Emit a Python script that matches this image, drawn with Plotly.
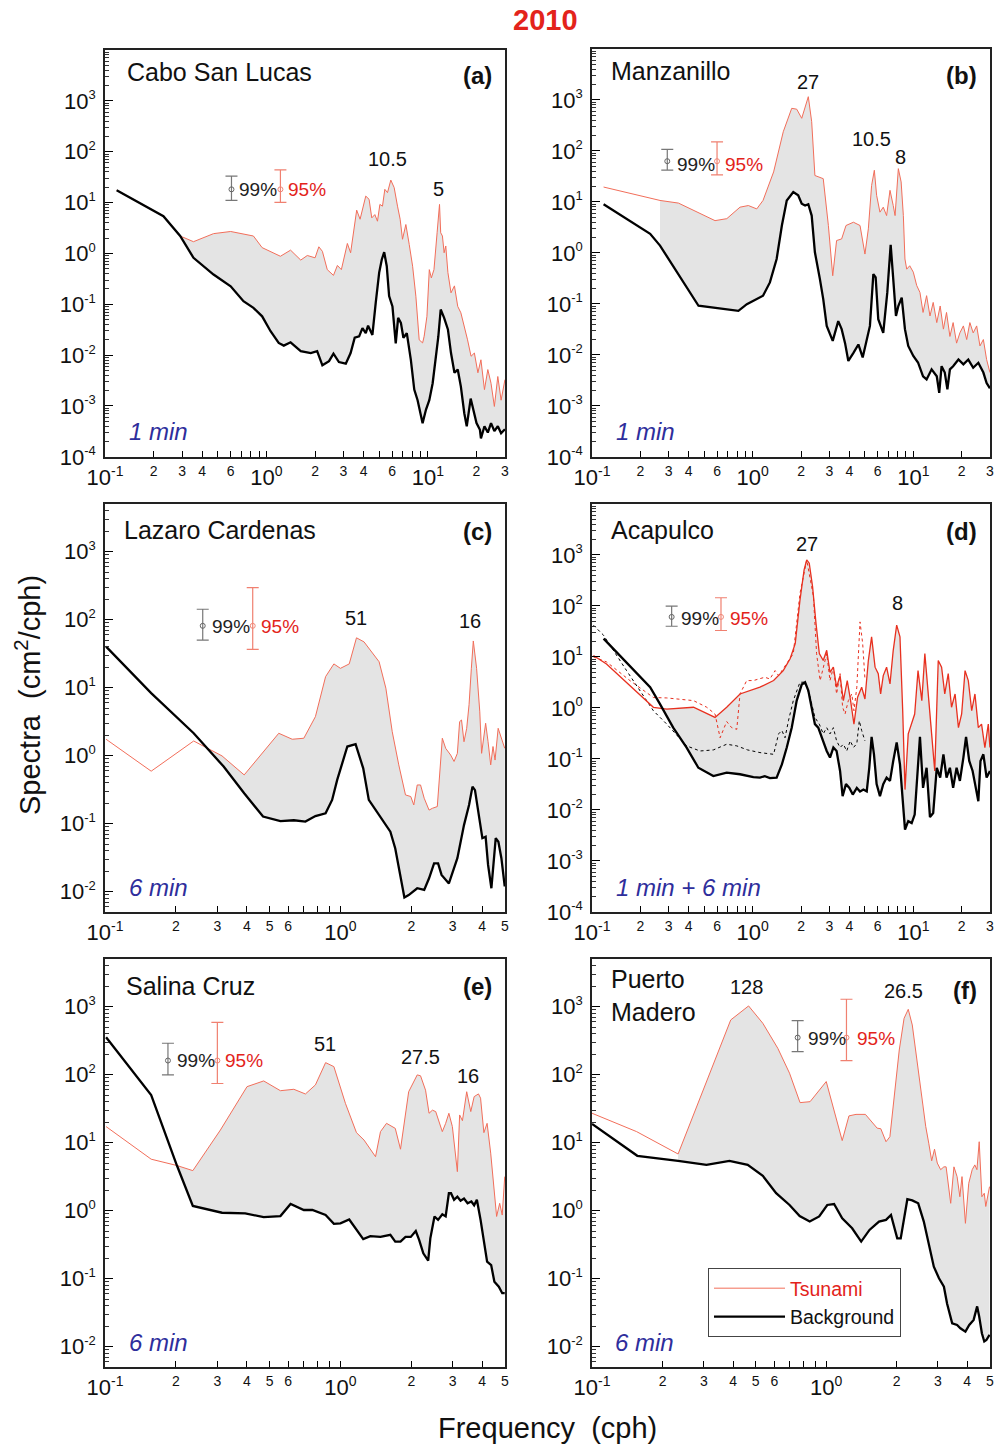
import math
import plotly.graph_objects as go

W, H = 998, 1446
FONT = "Liberation Sans, Arial, Helvetica, sans-serif"
TSU_COLOR = "#f26e5a"
TSU_COLOR_D = "#e8301f"
TXT_RED = "#e3231b"
BLUE = "#2e2e9c"
FILL = "#e4e4e4"

# ---------------- data: (a) Cabo San Lucas ----------------
a_tsu_f = [0.118, 0.23, 0.292, 0.353, 0.47, 0.6, 0.83, 0.94, 1.22, 1.41, 1.63, 1.79, 2.0, 2.11, 2.22,
           2.38, 2.6, 2.75, 2.91, 3.17, 3.32, 3.62, 3.8, 4.12, 4.32, 4.49, 4.69, 4.87, 5.04, 5.23,
           5.41, 5.62, 5.89, 6.18, 6.48, 6.73, 6.96, 7.3, 7.66, 8.04, 8.42, 8.83, 9.27, 9.48, 9.86,
           10.2, 10.5, 10.9, 11.4, 11.8, 12.0, 12.3, 12.6, 12.9, 13.3, 13.9, 14.6, 15.3, 16.0, 16.8,
           17.6, 18.5, 19.4, 20.4, 21.3, 22.4, 23.5, 24.6, 25.8, 27.1, 28.4, 30.0]
a_tsu_s = [17.4, 5.4, 2.2, 1.7, 2.45, 2.7, 2.2, 1.3, 0.88, 1.16, 0.74, 0.91, 0.82, 1.35, 1.1,
           0.48, 0.37, 0.58, 0.48, 1.57, 1.03, 7.1, 4.7, 13.4, 11.6, 5.0, 5.8, 4.3, 9.2, 8.5,
           18.2, 15.7, 27.7, 19.7, 8.5, 4.7, 1.9, 3.7, 1.5, 0.56, 0.144, 0.020, 0.0174, 0.0234, 0.058,
           0.48, 0.33, 0.48, 2.55, 9.2, 2.55, 2.2, 1.03, 1.4, 0.42, 0.168, 0.23, 0.091, 0.068, 0.037,
           0.020, 0.0095, 0.011, 0.0045, 0.0081, 0.0021, 0.0052, 0.0028, 0.00098, 0.0038, 0.0013, 0.0033]
a_bg_f = [0.118, 0.23, 0.292, 0.353, 0.47, 0.6, 0.72, 0.83, 0.94, 1.06, 1.19, 1.28, 1.41, 1.63, 1.88,
          2.06, 2.22, 2.44, 2.6, 2.81, 3.1, 3.32, 3.52, 3.75, 3.93, 4.12, 4.26, 4.53, 4.75, 4.99,
          5.18, 5.36, 5.56, 5.75, 6.03, 6.32, 6.54, 6.8, 7.05, 7.4, 7.84, 8.23, 8.63, 8.96, 9.27,
          9.73, 10.2, 10.7, 11.2, 11.6, 12.0, 12.6, 13.3, 13.9, 14.6, 15.3, 16.0, 16.8, 17.4, 18.4,
          19.1, 20.0, 21.0, 21.3, 22.4, 23.5, 24.6, 25.8, 27.1, 28.4, 30.0]
a_bg_s = [17.4, 5.4, 2.2, 0.82, 0.385, 0.226, 0.115, 0.085, 0.058, 0.0295, 0.0174, 0.0154, 0.0179, 0.012, 0.011,
          0.012, 0.0063, 0.0076, 0.0107, 0.0073, 0.0068, 0.011, 0.022, 0.0234, 0.034, 0.027, 0.038, 0.025, 0.107, 0.42,
          0.76, 1.06, 0.56, 0.145, 0.091, 0.017, 0.054, 0.043, 0.022, 0.027, 0.0081, 0.0021, 0.0013, 0.00072, 0.00046,
          0.00085, 0.0013, 0.0028, 0.0081, 0.023, 0.079, 0.054, 0.032, 0.011, 0.0045, 0.0052, 0.0024, 0.00072, 0.0004, 0.0014,
          0.00085, 0.00046, 0.00034, 0.00023, 0.0004, 0.0003, 0.00046, 0.00032, 0.0004, 0.00029, 0.00035]

# ---------------- data: (b) Manzanillo ----------------
b_tsu_f = [0.118, 0.265, 0.345, 0.583, 0.69, 0.834, 0.94, 1.06, 1.16, 1.35, 1.55, 1.75, 1.88, 2.02, 2.22,
           2.33, 2.44, 2.75, 2.96, 3.15, 3.33, 3.58, 3.81, 4.24, 4.66, 5.0, 5.25, 5.5, 5.72, 5.91,
           6.2, 6.5, 6.82, 7.16, 7.5, 7.7, 8.07, 8.4, 8.67, 8.87, 9.1, 9.5, 10.0, 10.5, 11.0,
           11.5, 12.1, 12.7, 13.3, 14.0, 14.7, 15.4, 16.1, 16.9, 17.7, 18.6, 19.5, 20.5, 21.5, 22.5,
           23.6, 24.8, 26.0, 27.3, 28.6, 30.0]
b_tsu_s = [19.6, 10.7, 9.5, 4.3, 4.7, 7.9, 8.5, 7.3, 10.7, 38.8, 238, 686, 660, 437, 1160,
           375, 33, 28.6, 3.45, 0.357, 1.75, 1.88, 3.45, 4.0, 3.45, 0.95, 2.97, 21, 41.8, 13.5,
           6.3, 7.9, 5.4, 16.9, 8.5, 5.4, 45, 24.7, 5.4, 0.76, 0.48, 0.56, 0.42, 0.23, 0.168,
           0.068, 0.145, 0.058, 0.107, 0.043, 0.091, 0.032, 0.068, 0.023, 0.043, 0.017, 0.027, 0.037, 0.020, 0.043,
           0.027, 0.037, 0.015, 0.020, 0.0081, 0.0045]
b_bg_f = [0.118, 0.23, 0.265, 0.46, 0.815, 0.92, 1.16, 1.28, 1.41, 1.52, 1.63, 1.79, 1.92, 2.02, 2.12,
          2.22, 2.33, 2.44, 2.62, 2.75, 2.89, 3.15, 3.41, 3.58, 3.76, 3.94, 4.24, 4.55, 4.84, 5.13,
          5.37, 5.64, 5.83, 6.05, 6.5, 6.89, 7.23, 7.5, 7.8, 8.07, 8.47, 8.87, 9.3, 10.0, 10.7,
          11.5, 12.1, 13.0, 14.0, 14.5, 15.0, 15.7, 16.3, 16.9, 17.7, 19.1, 20.5, 22.0, 23.6, 25.4,
          27.3, 28.6, 30.0]
b_bg_s = [9.0, 2.37, 1.39, 0.092, 0.073, 0.099, 0.145, 0.264, 0.76, 3.45, 10.7, 15.7, 13.5, 9.2, 8.5,
          9.0, 5.4, 1.03, 0.31, 0.124, 0.037, 0.0188, 0.046, 0.032, 0.017, 0.0076, 0.011, 0.016, 0.0089, 0.020,
          0.037, 0.385, 0.33, 0.05, 0.027, 0.168, 1.44, 0.31, 0.058, 0.091, 0.133, 0.032, 0.015, 0.0095, 0.0071,
          0.0038, 0.0033, 0.0052, 0.0038, 0.0018, 0.006, 0.0045, 0.0021, 0.0052, 0.006, 0.0081, 0.0065, 0.0081, 0.0056, 0.007,
          0.0045, 0.0028, 0.0022]

# ---------------- data: (c) Lazaro Cardenas ----------------
c_tsu_f = [0.101, 0.157, 0.238, 0.271, 0.314, 0.39, 0.457, 0.547, 0.624, 0.699, 0.783, 0.865, 0.938, 1.0, 1.09,
           1.17, 1.26, 1.37, 1.46, 1.56, 1.66, 1.77, 1.89, 1.99, 2.05, 2.12, 2.19, 2.27, 2.38, 2.46,
           2.58, 2.71, 2.8, 2.94, 3.04, 3.14, 3.21, 3.27, 3.35, 3.44, 3.52, 3.6, 3.67, 3.79, 3.91,
           3.98, 4.14, 4.24, 4.35, 4.45, 4.54, 4.68, 4.83, 4.99]
c_tsu_s = [1.74, 0.59, 1.64, 1.31, 0.99, 0.52, 1.02, 2.13, 1.74, 1.8, 3.74, 14.5, 22.3, 19.2, 22.3,
           54, 47, 32, 24, 9.8, 2.25, 0.73, 0.264, 0.25, 0.188, 0.37, 0.37, 0.236, 0.158, 0.168,
           0.178, 1.8, 1.28, 1.02, 0.82, 1.08, 3.16, 3.34, 1.6, 2.52, 5.6, 19.2, 48.5, 19.2, 4.4,
           1.08, 2.99, 1.6, 0.73, 1.36, 0.86, 2.52, 1.8, 1.28]
c_bg_f = [0.101, 0.157, 0.238, 0.271, 0.319, 0.39, 0.469, 0.556, 0.634, 0.71, 0.783, 0.865, 0.922, 0.969, 1.07,
          1.16, 1.25, 1.32, 1.46, 1.63, 1.71, 1.8, 1.87, 1.95, 2.12, 2.27, 2.38, 2.5, 2.6, 2.69,
          2.89, 3.14, 3.35, 3.52, 3.64, 3.73, 3.88, 4.01, 4.14, 4.24, 4.38, 4.57, 4.69, 4.83, 4.99]
c_bg_s = [40, 8.3, 2.13, 1.31, 0.69, 0.28, 0.127, 0.109, 0.112, 0.107, 0.129, 0.142, 0.223, 0.44, 1.36,
          1.47, 0.65, 0.223, 0.134, 0.076, 0.043, 0.0176, 0.0082, 0.0089, 0.0112, 0.0106, 0.0157, 0.026, 0.026, 0.0176,
          0.0132, 0.031, 0.095, 0.188, 0.35, 0.31, 0.134, 0.061, 0.064, 0.0247, 0.0112, 0.061, 0.054, 0.031, 0.0119]

# ---------------- data: (d) Acapulco (1 min solid, 6 min dotted) ----------------
d_tsu1_f = [0.102, 0.123, 0.241, 0.275, 0.292, 0.428, 0.583, 0.689, 0.834, 1.11, 1.35, 1.55, 1.71, 1.84, 1.97,
            2.09, 2.17, 2.25, 2.36, 2.48, 2.6, 2.75, 2.89, 3.03, 3.18, 3.33, 3.5, 3.67, 3.88, 4.07,
            4.27, 4.5, 4.77, 5.0, 5.25, 5.5, 5.78, 6.05, 6.26, 6.5, 6.82, 7.16, 7.5, 7.88, 8.26,
            8.59, 8.88, 9.3, 9.77, 10.2, 10.7, 11.3, 11.8, 12.4, 13.0, 13.6, 14.3, 15.0, 15.7, 16.5,
            17.3, 18.2, 19.1, 20.0, 21.0, 22.0, 23.1, 24.2, 25.4, 26.6, 27.9, 29.3, 30.0]
d_tsu1_s = [10.7, 7.3, 1.03, 0.97, 0.95, 1.03, 0.65, 1.03, 1.88, 2.55, 3.44, 5.4, 9.2, 18.2, 130,
            509, 802, 689, 239, 45, 11.6, 8.5, 13.5, 5.0, 6.3, 2.55, 4.3, 1.39, 3.44, 1.39,
            0.48, 1.62, 2.55, 1.5, 8.5, 24.7, 6.3, 4.7, 1.88, 4.3, 6.3, 2.96, 13.5, 42, 24.7,
            0.88, 0.025, 0.31, 0.48, 0.76, 5.4, 1.39, 11.6, 1.88, 0.41, 0.058, 8.5, 6.3, 1.88, 4.7,
            1.03, 1.88, 0.41, 0.76, 5.4, 3.44, 0.88, 1.88, 0.41, 0.48, 0.167, 0.48, 0.167]
d_tsu6_f = [0.102, 0.123, 0.173, 0.241, 0.292, 0.428, 0.518, 0.583, 0.627, 0.689, 0.74, 0.796, 0.834, 0.918, 1.01,
            1.11, 1.19, 1.28, 1.38, 1.45, 1.79, 1.97, 2.17, 2.39, 2.5, 2.63, 2.75, 2.89, 3.03, 3.18,
            3.33, 3.5, 3.63, 3.76, 3.94, 4.14, 4.27, 4.45, 4.66, 4.84, 5.0]
d_tsu6_s = [10, 8, 3.4, 1.6, 1.57, 1.39, 1.03, 0.76, 0.26, 0.54, 0.41, 0.38, 1.88, 3.44, 3.44,
            3.7, 4.0, 3.7, 5.4, 4.3, 11.6, 176, 800, 152, 11.6, 3.44, 6.3, 11.6, 3.44, 6.3,
            1.88, 4.7, 1.03, 0.76, 1.39, 1.88, 0.88, 2.55, 48.7, 18.2, 3.7]
d_bg1_f = [0.118, 0.164, 0.23, 0.265, 0.275, 0.32, 0.388, 0.459, 0.569, 0.689, 0.834, 1.01, 1.11, 1.19, 1.28,
           1.41, 1.52, 1.63, 1.75, 1.88, 2.02, 2.12, 2.22, 2.33, 2.44, 2.56, 2.69, 2.89, 3.03, 3.18,
           3.33, 3.5, 3.63, 3.81, 4.0, 4.2, 4.45, 4.66, 4.89, 5.13, 5.32, 5.5, 5.69, 5.91, 6.2,
           6.5, 6.82, 7.16, 7.5, 7.88, 8.26, 8.59, 8.88, 9.3, 9.77, 10.2, 10.6, 11.0, 11.5, 12.1,
           12.7, 13.3, 14.0, 14.7, 15.4, 16.1, 16.9, 17.7, 18.6, 19.5, 20.5, 21.3, 22.3, 23.4, 24.5,
           25.4, 26.2, 27.3, 28.6, 30.0]
d_bg1_s = [22.9, 7.9, 2.55, 1.19, 0.97, 0.41, 0.167, 0.067, 0.046, 0.054, 0.05, 0.044, 0.043, 0.046, 0.042,
           0.043, 0.078, 0.167, 0.41, 1.39, 2.87, 3.19, 2.19, 1.03, 0.48, 0.41, 0.26, 0.143, 0.106, 0.167,
           0.143, 0.058, 0.0186, 0.032, 0.027, 0.02, 0.027, 0.023, 0.025, 0.023, 0.067, 0.27, 0.123, 0.032, 0.0186,
           0.032, 0.043, 0.037, 0.091, 0.21, 0.078, 0.0127, 0.0041, 0.006, 0.0055, 0.0081, 0.05, 0.27, 0.027, 0.067,
           0.0072, 0.0087, 0.067, 0.043, 0.123, 0.043, 0.067, 0.027, 0.067, 0.037, 0.106, 0.27, 0.091, 0.058, 0.027,
           0.0148, 0.091, 0.123, 0.043, 0.058]
d_bg6_f = [0.102, 0.118, 0.164, 0.241, 0.292, 0.388, 0.47, 0.569, 0.689, 0.796, 0.93, 1.11, 1.35, 1.45, 1.52,
           1.59, 1.67, 1.79, 1.97, 2.12, 2.28, 2.44, 2.6, 2.75, 2.89, 3.03, 3.18, 3.33, 3.5, 3.67,
           3.85, 4.05, 4.24, 4.45, 4.61, 4.77, 5.0]
d_bg6_s = [42, 26.6, 5.4, 0.88, 0.48, 0.18, 0.143, 0.15, 0.194, 0.18, 0.15, 0.133, 0.123, 0.31, 0.36,
           0.26, 0.56, 1.39, 3.19, 3.2, 1.62, 0.65, 0.48, 0.31, 0.41, 0.31, 0.41, 0.226, 0.167, 0.194,
           0.143, 0.226, 0.167, 0.2, 0.56, 0.36, 0.226]

# ---------------- data: (e) Salina Cruz ----------------
e_tsu_f = [0.101, 0.157, 0.202, 0.236, 0.309, 0.401, 0.472, 0.556, 0.634, 0.71, 0.783, 0.865, 0.938, 1.05, 1.17,
           1.26, 1.41, 1.48, 1.57, 1.71, 1.8, 1.95, 2.12, 2.19, 2.3, 2.38, 2.46, 2.54, 2.71, 2.8,
           2.89, 2.99, 3.14, 3.21, 3.3, 3.44, 3.58, 3.7, 3.86, 3.94, 4.07, 4.2, 4.35, 4.61, 4.75,
           4.87, 4.99]
e_tsu_s = [17.2, 5.7, 4.6, 3.87, 15.3, 66.5, 80.7, 58, 60.8, 51.9, 70.5, 150, 131, 37.8, 14,
           10.9, 6.2, 14.5, 19.2, 16.2, 8, 56, 99, 96, 59, 27, 30, 28.6, 14.5, 19.2,
           27, 17.2, 3.74, 25.5, 21, 56, 28.6, 47.4, 52, 45, 14, 19.2, 7, 0.82, 1.28,
           0.86, 3.16]
e_bg_f = [0.101, 0.157, 0.202, 0.236, 0.314, 0.394, 0.472, 0.556, 0.614, 0.699, 0.76, 0.865, 0.938, 1.0, 1.09,
          1.25, 1.34, 1.48, 1.63, 1.71, 1.8, 1.89, 1.99, 2.09, 2.16, 2.25, 2.36, 2.41, 2.51, 2.6,
          2.71, 2.8, 2.89, 2.95, 3.04, 3.14, 3.24, 3.35, 3.47, 3.6, 3.7, 3.8, 3.94, 4.07, 4.2,
          4.37, 4.51, 4.71, 4.87, 4.99]
e_bg_s = [354, 50, 4.6, 1.17, 0.93, 0.91, 0.8, 0.83, 1.25, 1.02, 1.02, 0.86, 0.64, 0.65, 0.74,
          0.38, 0.42, 0.41, 0.44, 0.35, 0.35, 0.41, 0.41, 0.5, 0.37, 0.235, 0.184, 0.39, 0.82, 0.73,
          0.88, 0.82, 1.8, 1.8, 1.44, 1.6, 1.4, 1.5, 1.28, 1.36, 1.2, 1.44, 0.73, 0.37, 0.178,
          0.158, 0.09, 0.076, 0.061, 0.061]

# ---------------- data: (f) Puerto Madero ----------------
f_tsu_f = [0.1, 0.155, 0.233, 0.298, 0.391, 0.466, 0.536, 0.621, 0.697, 0.773, 0.853, 1.0, 1.08, 1.17, 1.25,
           1.34, 1.47, 1.65, 1.71, 1.8, 1.87, 1.95, 2.05, 2.15, 2.24, 2.33, 2.41, 2.49, 2.57, 2.66,
           2.74, 2.82, 2.9, 2.98, 3.08, 3.18, 3.25, 3.4, 3.51, 3.62, 3.72, 3.8, 3.93, 4.06, 4.2,
           4.31, 4.4, 4.5, 4.62, 4.73, 4.8, 4.98]
f_tsu_s = [27, 14.5, 6.8, 59, 637, 1023, 569, 244, 105, 38.7, 40, 79, 30, 10.7, 24.7,
           26, 26, 16.3, 16, 10.3, 12.2, 47, 230, 673, 912, 537, 230, 93, 38, 17.2,
           9.8, 5.4, 8, 5, 4, 4.4, 4.4, 1.28, 4.4, 3.16, 1.6, 3.16, 0.65, 2.52, 4,
           4.7, 4, 10.3, 1.6, 1.8, 1.15, 2.25]
f_bg_f = [0.1, 0.156, 0.233, 0.308, 0.386, 0.462, 0.536, 0.611, 0.697, 0.77, 0.85, 0.933, 1.01, 1.08, 1.17,
          1.29, 1.41, 1.53, 1.68, 1.8, 1.89, 1.95, 2.01, 2.08, 2.15, 2.22, 2.33, 2.47, 2.61, 2.74,
          2.88, 3.03, 3.18, 3.28, 3.45, 3.62, 3.74, 3.93, 4.08, 4.26, 4.41, 4.5, 4.62, 4.73, 4.83,
          4.98]
f_bg_s = [18.8, 6.4, 5.4, 4.7, 5.4, 4.7, 3.24, 1.8, 1.21, 0.83, 0.69, 0.82, 1.21, 1.25, 0.77,
          0.55, 0.35, 0.52, 0.69, 0.73, 0.86, 0.58, 0.39, 0.39, 0.82, 1.47, 1.41, 1.28, 0.69, 0.33,
          0.15, 0.101, 0.076, 0.043, 0.022, 0.0208, 0.0186, 0.0166, 0.0208, 0.0247, 0.039, 0.0276, 0.0157, 0.0119, 0.0125,
          0.0149]

# ---------------- confidence intervals (a..f) ----------------
ci_center = [18.2, 63, 81, 61, 161, 350]
ci99_x = [0.607, 0.294, 0.26, 0.313, 0.185, 0.755]
ci99_lo = [11, 42, 50, 40, 99, 218]
ci99_hi = [33, 107, 142, 99, 289, 622]
ci95_x = [1.22, 0.6, 0.424, 0.635, 0.3, 1.22]
ci95_lo = [10.1, 34, 36.6, 33, 74, 161]
ci95_hi = [44, 151, 295, 145, 587, 1282]

station_names = ["Cabo San Lucas", "Manzanillo", "Lazaro Cardenas", "Acapulco", "Salina Cruz", "Puerto<br>Madero"]
panel_letters = ["(a)", "(b)", "(c)", "(d)", "(e)", "(f)"]
sampling = ["1 min", "1 min", "6 min", "1 min + 6 min", "6 min", "6 min"]
peak_labels = [["10.5", "5"], ["27", "10.5", "8"], ["51", "16"], ["27", "8"], ["51", "27.5", "16"], ["128", "26.5"]]
fill_from = [0.292, 0.265, 0.271, 0.275, 0.202, 0.233]

# ---------------- layout geometry (pixels) ----------------
boxes = [(105, 505, 50, 457), (592, 990, 49, 457),
         (105, 505, 504, 912), (592, 990, 504, 912),
         (105, 505, 959, 1367), (592, 990, 959, 1367)]
xspan = ["wide", "wide", "narrow", "wide", "narrow", "narrow"]
yranges = [(-4.003, 4.0), (-4.003, 4.0), (-2.3, 3.7), (-4.003, 4.0), (-2.3, 3.7), (-2.3, 3.7)]
ydecades = [(-4, 3), (-4, 3), (-2, 3), (-4, 3), (-2, 3), (-2, 3)]
name_pos = [(125, 72), (609, 71), (122, 530), (609, 530), (124, 986), (609, 995)]
letter_pos = [(494, 75), (979, 75), (494, 531), (979, 531), (494, 986), (979, 990)]
samp_pos = [(127, 431), (614, 431), (127, 887), (614, 887), (127, 1342), (613, 1342)]
peak_pos = [[(387, 159), (438, 189)], [(808, 82), (871, 139), (900, 157)],
            [(356, 618), (470, 621)], [(807, 544), (897, 603)],
            [(325, 1044), (420, 1057), (468, 1076)], [(746, 987), (903, 991)]]
ci_text_pos = [(237, 286, 190), (675, 723, 164), (210, 259, 626),
               (679, 728, 618), (175, 223, 1060), (806, 855, 1038)]

series = [
    dict(tsu=[(a_tsu_f, a_tsu_s)], bg=[(a_bg_f, a_bg_s)]),
    dict(tsu=[(b_tsu_f, b_tsu_s)], bg=[(b_bg_f, b_bg_s)]),
    dict(tsu=[(c_tsu_f, c_tsu_s)], bg=[(c_bg_f, c_bg_s)]),
    dict(tsu=[(d_tsu1_f, d_tsu1_s), (d_tsu6_f, d_tsu6_s)], bg=[(d_bg1_f, d_bg1_s), (d_bg6_f, d_bg6_s)]),
    dict(tsu=[(e_tsu_f, e_tsu_s)], bg=[(e_bg_f, e_bg_s)]),
    dict(tsu=[(f_tsu_f, f_tsu_s)], bg=[(f_bg_f, f_bg_s)]),
]

for s in series:
    for f, v in s["tsu"] + s["bg"]:
        assert len(f) == len(v), (len(f), len(v))


def px2x(px):
    return px / W


def px2y(py):
    return 1 - py / H


def sup(t, size):
    return "<sup><span style='font-size:%dpx'>%s</span></sup>" % (size, t)


def x_ticks(kind):
    vals, text, minor = [], [], []
    shown = (2, 3, 4, 6) if kind == "wide" else (2, 3, 4, 5, 6)
    decades = [-1, 0, 1] if kind == "wide" else [-1, 0]
    top = 30 if kind == "wide" else 5
    for k in decades:
        base = 10.0 ** k
        vals.append(base)
        text.append("10" + sup(k, 14))
        for d in range(2, 10):
            v = round(d * base, 6)
            if v > top + 1e-9:
                break
            if k == 1 or d in shown:
                vals.append(v)
                text.append(sup(d, 14))
            else:
                minor.append(v)
    return vals, text, minor


def y_ticks(lo, hi, rng):
    vals = [10.0 ** k for k in range(lo, hi + 1)]
    text = ["10" + sup(k, 13) for k in range(lo, hi + 1)]
    minor = []
    for k in range(lo - 1, hi + 2):
        for d in range(2, 10):
            v = d * 10.0 ** k
            lv = math.log10(v)
            if rng[0] < lv < rng[1]:
                minor.append(v)
    return vals, text, minor


def fill_polygon(bf, bs, tf, ts, start):
    bx = [f for f in bf if f >= start]
    by = [v for f, v in zip(bf, bs) if f >= start]
    tx = [f for f in tf if f >= start]
    ty = [v for f, v in zip(tf, ts) if f >= start]
    return bx + tx[::-1] + bx[:1], by + ty[::-1] + by[:1]


fig = go.Figure()
layout = dict(
    width=W, height=H, margin=dict(l=0, r=0, t=0, b=0, autoexpand=False),
    paper_bgcolor="white", plot_bgcolor="white",
    font=dict(family=FONT, color="black"),
    showlegend=True,
    legend=dict(x=px2x(708), y=px2y(1268), xanchor="left", yanchor="top",
                bordercolor="#444444", borderwidth=1, bgcolor="white",
                font=dict(size=19.5, family=FONT, color="#111111"), itemwidth=71, tracegroupgap=0),
)

annotations = []

for i in range(6):
    sx = "" if i == 0 else str(i + 1)
    xid, yid = "x" + sx, "y" + sx
    x0, x1, y0, y1 = boxes[i]
    xv, xt, xm = x_ticks(xspan[i])
    xr = [-1.0003, 1.4775] if xspan[i] == "wide" else [-1.0003, 0.6993]
    yv, yt, ym = y_ticks(ydecades[i][0], ydecades[i][1], yranges[i])
    layout["xaxis" + sx] = dict(
        type="log", domain=[px2x(x0), px2x(x1)], range=xr, anchor=yid, automargin=False,
        tickmode="array", tickvals=xv, ticktext=xt, ticks="inside", ticklen=6, tickwidth=1,
        tickcolor="black", showline=True, linecolor="#222222", linewidth=1.6, mirror=True,
        showgrid=False, zeroline=False, tickfont=dict(size=22, family=FONT, color="#111111"),
        minor=dict(tickmode="array", tickvals=xm, ticks="inside", ticklen=6, tickwidth=1,
                   tickcolor="black", showgrid=False),
    )
    layout["yaxis" + sx] = dict(
        type="log", domain=[px2y(y1), px2y(y0)], range=list(yranges[i]), anchor=xid, automargin=False,
        tickmode="array", tickvals=yv, ticktext=yt, ticks="inside", ticklen=8, tickwidth=1,
        tickcolor="black", showline=True, linecolor="#222222", linewidth=1.6, mirror=True,
        showgrid=False, zeroline=False, tickfont=dict(size=22, family=FONT, color="#111111"),
        ticklabelstandoff=3,
        minor=dict(tickmode="array", tickvals=ym, ticks="inside", ticklen=4, tickwidth=0.8,
                   tickcolor="#333333", showgrid=False),
    )

    s = series[i]
    bf, bs = s["bg"][0]
    tf, ts = s["tsu"][0]
    px_, py_ = fill_polygon(bf, bs, tf, ts, fill_from[i])
    fig.add_trace(go.Scatter(x=px_, y=py_, xaxis=xid, yaxis=yid, mode="lines", fill="toself",
                             fillcolor=FILL, line=dict(width=0), hoverinfo="skip", showlegend=False))

    legend_on = (i == 5)
    if i == 3:
        fig.add_trace(go.Scatter(x=s["tsu"][1][0], y=s["tsu"][1][1], xaxis=xid, yaxis=yid, mode="lines",
                                 line=dict(color=TSU_COLOR_D, width=1, dash="dot"), showlegend=False))
        fig.add_trace(go.Scatter(x=s["bg"][1][0], y=s["bg"][1][1], xaxis=xid, yaxis=yid, mode="lines",
                                 line=dict(color="black", width=1, dash="dot"), showlegend=False))
        tcol, twid = TSU_COLOR_D, 1.3
    else:
        tcol, twid = TSU_COLOR, 1.0
    fig.add_trace(go.Scatter(x=tf, y=ts, xaxis=xid, yaxis=yid, mode="lines",
                             line=dict(color=tcol, width=twid),
                             name="<span style='color:%s'>Tsunami</span>" % TXT_RED,
                             showlegend=legend_on))
    fig.add_trace(go.Scatter(x=bf, y=bs, xaxis=xid, yaxis=yid, mode="lines",
                             line=dict(color="black", width=2.3),
                             name="Background", showlegend=legend_on))

    # confidence-interval bars
    c = ci_center[i]
    fig.add_trace(go.Scatter(
        x=[ci99_x[i]], y=[c], xaxis=xid, yaxis=yid, mode="markers",
        marker=dict(symbol="circle-open", size=5, color="#666666", line=dict(width=1)),
        error_y=dict(type="data", symmetric=False, array=[ci99_hi[i] - c], arrayminus=[c - ci99_lo[i]],
                     color="#777777", thickness=1.2, width=6),
        showlegend=False, hoverinfo="skip"))
    fig.add_trace(go.Scatter(
        x=[ci95_x[i]], y=[c], xaxis=xid, yaxis=yid, mode="markers",
        marker=dict(symbol="circle-open", size=5, color="#f08878", line=dict(width=1)),
        error_y=dict(type="data", symmetric=False, array=[ci95_hi[i] - c], arrayminus=[c - ci95_lo[i]],
                     color="#f08070", thickness=1.2, width=6),
        showlegend=False, hoverinfo="skip"))

    t99x, t95x, ty = ci_text_pos[i]
    annotations.append(dict(text="99%", x=px2x(t99x), y=px2y(ty), xref="paper", yref="paper",
                            xanchor="left", yanchor="middle", showarrow=False,
                            font=dict(size=19, color="#222222", family=FONT)))
    annotations.append(dict(text="95%", x=px2x(t95x), y=px2y(ty), xref="paper", yref="paper",
                            xanchor="left", yanchor="middle", showarrow=False,
                            font=dict(size=19, color=TXT_RED, family=FONT)))

    nx, ny = name_pos[i]
    annotations.append(dict(text=station_names[i], x=px2x(nx), y=px2y(ny), xref="paper", yref="paper",
                            xanchor="left", yanchor="middle", align="left", showarrow=False,
                            font=dict(size=25, color="#111111", family=FONT)))
    lx, ly = letter_pos[i]
    annotations.append(dict(text="<b>%s</b>" % panel_letters[i], x=px2x(lx), y=px2y(ly), xref="paper",
                            yref="paper", xanchor="right", yanchor="middle", showarrow=False,
                            font=dict(size=24, color="#111111", family=FONT)))
    sxp, syp = samp_pos[i]
    annotations.append(dict(text="<i>%s</i>" % sampling[i], x=px2x(sxp), y=px2y(syp), xref="paper",
                            yref="paper", xanchor="left", yanchor="middle", showarrow=False,
                            font=dict(size=24, color=BLUE, family=FONT)))
    for lab, (qx, qy) in zip(peak_labels[i], peak_pos[i]):
        annotations.append(dict(text=lab, x=px2x(qx), y=px2y(qy), xref="paper", yref="paper",
                                xanchor="center", yanchor="middle", showarrow=False,
                                font=dict(size=20, color="#111111", family=FONT)))

annotations.append(dict(text="<b>2010</b>", x=px2x(545), y=px2y(20), xref="paper", yref="paper",
                        xanchor="center", yanchor="middle", showarrow=False,
                        font=dict(size=29, color=TXT_RED, family="Liberation Sans Narrow, Liberation Sans, Arial")))
annotations.append(dict(text="Spectra  (cm<sup>2</sup>/cph)", x=px2x(28), y=px2y(695), xref="paper",
                        yref="paper", xanchor="center", yanchor="middle", showarrow=False, textangle=-90,
                        font=dict(size=29, color="#111111", family=FONT)))
annotations.append(dict(text="Frequency  (cph)", x=px2x(547), y=px2y(1428), xref="paper", yref="paper",
                        xanchor="center", yanchor="middle", showarrow=False,
                        font=dict(size=29, color="#111111", family=FONT)))

layout["annotations"] = annotations
fig.update_layout(**layout)
fig.write_html("out.html")
